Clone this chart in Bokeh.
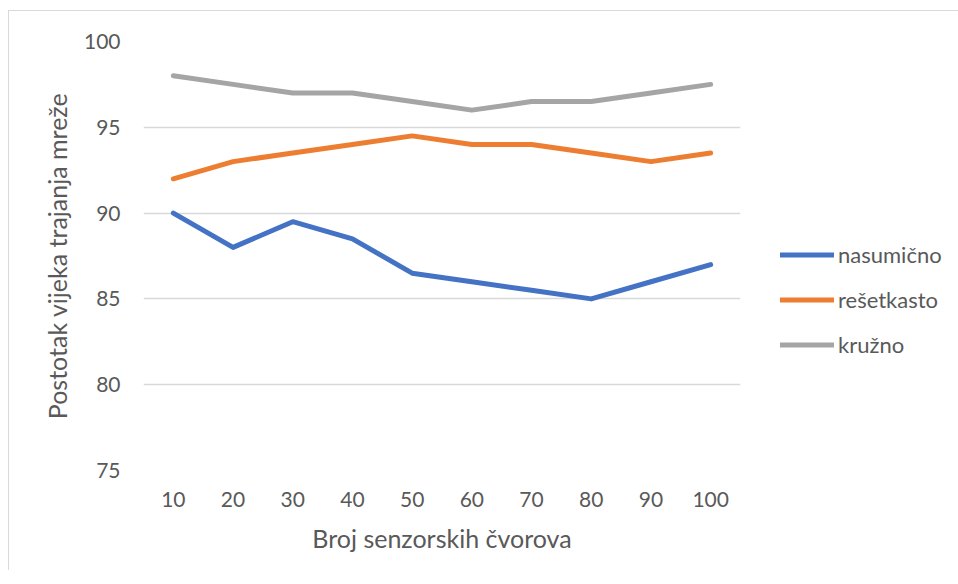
from bokeh.plotting import figure
from bokeh.models import Range1d, FixedTicker, Legend, LegendItem
from bokeh.embed import file_html
from bokeh.resources import INLINE

# Data
nodes = [10, 20, 30, 40, 50, 60, 70, 80, 90, 100]
nasumicno = [90, 88, 89.5, 88.5, 86.5, 86, 85.5, 85, 86, 87]
resetkasto = [92, 93, 93.5, 94, 94.5, 94, 94, 93.5, 93, 93.5]
kruzno = [98, 97.5, 97, 97, 96.5, 96, 96.5, 96.5, 97, 97.5]
series_names = ["nasumično", "rešetkasto", "kružno"]
y_ticks = [75, 80, 85, 90, 95, 100]

colors = ["#4472C4", "#ED7D31", "#A5A5A5"]
FONT = "Lato"
TXT = "#595959"

p = figure(frame_width=597, frame_height=429,
           min_border_left=134, min_border_right=205,
           min_border_top=30, min_border_bottom=100,
           x_range=Range1d(5, 105), y_range=Range1d(75, 100),
           output_backend="svg", toolbar_location=None,
           background_fill_color="white", border_fill_color="white")
p.outline_line_color = None
p.styles = {"border-top": "1px solid #d9d9d9", "border-left": "1px solid #d9d9d9",
            "margin-top": "10px", "margin-left": "8px"}

renderers = []
for ys, c in zip([nasumicno, resetkasto, kruzno], colors):
    r = p.line(nodes, ys, line_color=c, line_width=5,
               line_cap="round", line_join="round")
    renderers.append(r)

# Axes
p.xaxis.ticker = FixedTicker(ticks=nodes)
p.yaxis.ticker = FixedTicker(ticks=y_ticks)
p.xgrid.visible = False
p.ygrid.grid_line_color = "#D9D9D9"
p.ygrid.grid_line_width = 1.5

for ax in (p.xaxis[0], p.yaxis[0]):
    ax.major_tick_line_color = None
    ax.minor_tick_line_color = None
    ax.major_tick_out = 0
    ax.major_tick_in = 0
    ax.major_label_text_font = FONT
    ax.major_label_text_font_size = "21px"
    ax.major_label_text_color = TXT
    ax.axis_label_text_font = FONT
    ax.axis_label_text_font_size = "25px"
    ax.axis_label_text_color = TXT
    ax.axis_label_text_font_style = "normal"

p.yaxis.axis_line_color = None
p.xaxis.axis_line_color = None
p.yaxis.major_label_standoff = 23
p.xaxis.major_label_standoff = 21
p.yaxis.axis_label = "Postotak vijeka trajanja mreže"
p.xaxis.axis_label = "Broj senzorskih čvorova"
p.yaxis.axis_label_standoff = 9
p.xaxis.axis_label_standoff = 13

legend = Legend(items=[LegendItem(label=n, renderers=[r]) for n, r in zip(series_names, renderers)],
                location=(40, 112), orientation="vertical",
                glyph_width=54, glyph_height=21, label_height=21, spacing=18,
                label_standoff=4, padding=0, margin=0,
                border_line_color=None, background_fill_alpha=0,
                label_text_font=FONT, label_text_font_size="22px",
                label_text_color=TXT)
p.add_layout(legend, "right")

open("out.html", "w").write(file_html(p, INLINE))
